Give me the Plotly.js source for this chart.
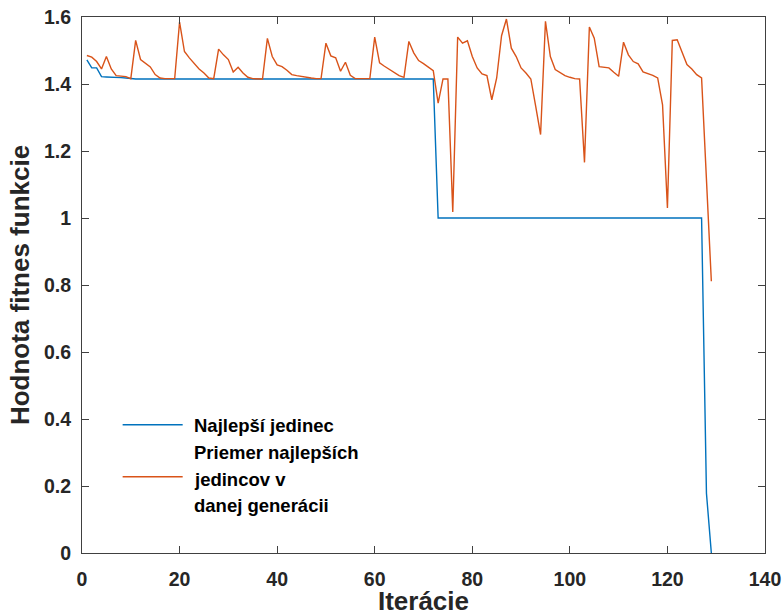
<!DOCTYPE html>
<html>
<head>
<meta charset="utf-8">
<script src="https://cdn.plot.ly/plotly-3.0.1.min.js"></script>
<style>html,body{margin:0;padding:0;background:#fff;}#chart{width:782px;height:616px;}</style>
</head>
<body>
<div id="chart"></div>
<script>
// Iterations (x values)
const iterations = [
  1,2,3,4,5,6,7,8,9,10,11,12,13,14,15,16,17,18,19,20,
  21,22,23,24,25,26,27,28,29,30,31,32,33,34,35,36,37,38,39,40,
  41,42,43,44,45,46,47,48,49,50,51,52,53,54,55,56,57,58,59,60,
  61,62,63,64,65,66,67,68,69,70,71,72,73,74,75,76,77,78,79,80,
  81,82,83,84,85,86,87,88,89,90,91,92,93,94,95,96,97,98,99,100,
  101,102,103,104,105,106,107,108,109,110,111,112,113,114,115,116,117,118,119,120,
  121,122,123,124,125,126,127,128,129
];

// Best individual fitness
const bestIndividual = [
  1.472,1.448,1.448,1.422,1.421,1.421,1.420,1.419,1.418,1.416,
  1.415,1.415,1.415,1.415,1.415,1.415,1.415,1.415,1.415,1.415,
  1.415,1.415,1.415,1.415,1.415,1.415,1.415,1.415,1.415,1.415,
  1.415,1.415,1.415,1.415,1.415,1.415,1.415,1.415,1.415,1.415,
  1.415,1.415,1.415,1.415,1.415,1.415,1.415,1.415,1.415,1.415,
  1.415,1.415,1.415,1.415,1.415,1.415,1.415,1.415,1.415,1.415,
  1.415,1.415,1.415,1.415,1.415,1.415,1.415,1.415,1.415,1.415,
  1.415,1.415,1.000,1.000,1.000,1.000,1.000,1.000,1.000,1.000,
  1.000,1.000,1.000,1.000,1.000,1.000,1.000,1.000,1.000,1.000,
  1.000,1.000,1.000,1.000,1.000,1.000,1.000,1.000,1.000,1.000,
  1.000,1.000,1.000,1.000,1.000,1.000,1.000,1.000,1.000,1.000,
  1.000,1.000,1.000,1.000,1.000,1.000,1.000,1.000,1.000,1.000,
  1.000,1.000,1.000,1.000,1.000,1.000,1.000,0.178,0.000
];

// Average of best individuals in the given generation
const avgBest = [
  1.485,1.480,1.467,1.445,1.482,1.445,1.425,1.423,1.422,1.416,
  1.530,1.473,1.463,1.451,1.428,1.418,1.416,1.416,1.416,1.585,
  1.497,1.478,1.460,1.445,1.433,1.418,1.416,1.504,1.487,1.473,
  1.436,1.450,1.433,1.420,1.416,1.415,1.415,1.536,1.482,1.457,
  1.452,1.441,1.428,1.425,1.422,1.420,1.418,1.416,1.416,1.522,
  1.484,1.478,1.438,1.465,1.426,1.416,1.416,1.416,1.416,1.540,
  1.463,1.453,1.443,1.433,1.425,1.420,1.527,1.493,1.470,1.461,
  1.451,1.440,1.343,1.415,1.415,1.018,1.540,1.522,1.529,1.482,
  1.448,1.430,1.425,1.353,1.418,1.544,1.594,1.507,1.482,1.448,
  1.433,1.415,1.333,1.249,1.587,1.482,1.443,1.435,1.425,1.420,
  1.416,1.415,1.166,1.570,1.537,1.452,1.450,1.448,1.435,1.423,
  1.525,1.487,1.467,1.460,1.436,1.431,1.426,1.418,1.338,1.030,
  1.530,1.532,1.497,1.458,1.445,1.428,1.418,1.120,0.811
];

const seriesNames = ["Najlepší jedinec", "Priemer najlepších jedincov v danej generácii"];
const legendLines = [["Najlepší jedinec"], ["Priemer najlepších", "jedincov v", "danej generácii"]];
const xTitle = "Iterácie";
const yTitle = "Hodnota fitnes funkcie";

const BLUE = "#0072BD", ORANGE = "#D95319";
const FONT = "Liberation Sans, Arial, Helvetica, sans-serif";
const TXT = "#262626";
const AX = "#404040";

const traces = [
  {x: iterations, y: bestIndividual, type: "scatter", mode: "lines", name: seriesNames[0],
   line: {color: BLUE, width: 1.4}, showlegend: false},
  {x: iterations, y: avgBest, type: "scatter", mode: "lines", name: seriesNames[1],
   line: {color: ORANGE, width: 1.4}, showlegend: false}
];

// custom legend (MATLAB style, no box, long line samples)
const legX0 = 0.0595, legX1 = 0.1474, legTextX = 0.1606;
const legLineY = [0.2392, 0.1423];
const legTextY = [[0.2374], [0.187, 0.1367, 0.0882]];
const shapes = [], annotations = [];
[BLUE, ORANGE].forEach((c, i) => {
  shapes.push({type: "line", xref: "paper", yref: "paper", x0: legX0, x1: legX1,
    y0: legLineY[i], y1: legLineY[i], line: {color: c, width: 1.4}});
  legendLines[i].forEach((t, j) => {
    annotations.push({xref: "paper", yref: "paper", x: legTextX, y: legTextY[i][j],
      xanchor: "left", yanchor: "middle", showarrow: false, align: "left", text: t,
      font: {family: FONT, size: 18.5, color: "#000", weight: "bold"}});
  });
});

const axisCommon = {
  showline: true, linecolor: AX, linewidth: 1, mirror: "ticks",
  ticks: "inside", ticklen: 7, tickwidth: 1, tickcolor: AX,
  showgrid: false, zeroline: false,
  tickfont: {family: FONT, size: 19.5, color: TXT, weight: "bold"}
};

const layout = {
  width: 782, height: 616,
  margin: {l: 82.4, r: 17.3, t: 17, b: 62.7, pad: 0},
  paper_bgcolor: "#fff", plot_bgcolor: "#fff",
  showlegend: false,
  xaxis: Object.assign({}, axisCommon, {
    range: [0, 140], tickmode: "linear", tick0: 0, dtick: 20,
    ticklabelstandoff: 9,
    title: {text: xTitle, standoff: 15, font: {family: FONT, size: 26, color: TXT, weight: "bold"}}
  }),
  yaxis: Object.assign({}, axisCommon, {
    range: [0, 1.6], tickmode: "linear", tick0: 0, dtick: 0.2,
    ticklabelstandoff: 6,
    title: {text: yTitle, standoff: 6, font: {family: FONT, size: 26, color: TXT, weight: "bold"}}
  }),
  shapes: shapes,
  annotations: annotations
};

Plotly.newPlot("chart", traces, layout, {staticPlot: true, displayModeBar: false});
</script>
</body>
</html>
